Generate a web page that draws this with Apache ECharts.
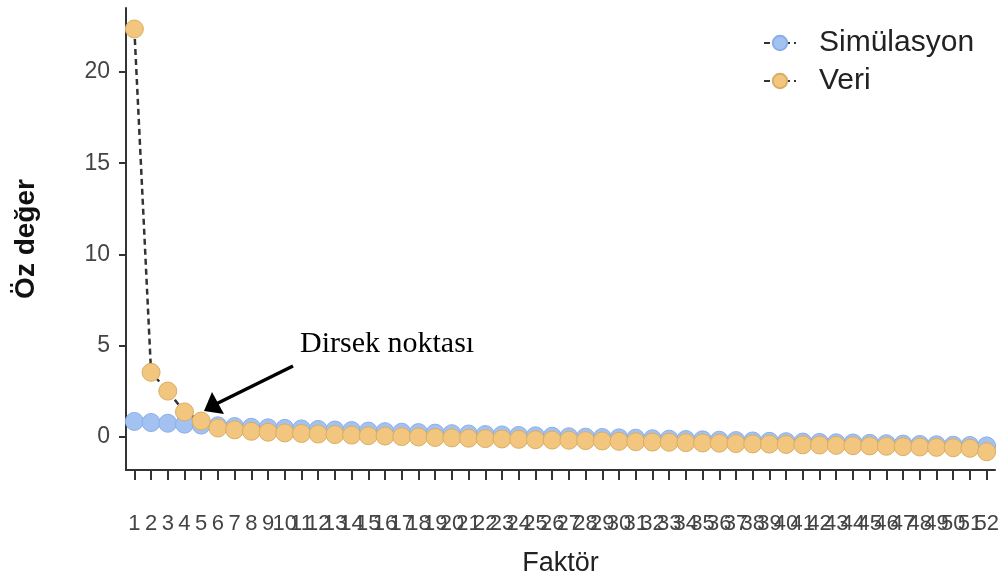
<!DOCTYPE html>
<html>
<head>
<meta charset="utf-8">
<script src="https://cdn.jsdelivr.net/npm/echarts@6/dist/echarts.min.js"></script>
<style>
html,body{margin:0;padding:0;background:#fff;}
#chart{width:1008px;height:582px;}
</style>
</head>
<body>
<div id="chart"></div>
<script>
const factors = ["1","2","3","4","5","6","7","8","9","10","11","12","13","14","15","16","17","18","19","20","21","22","23","24","25","26","27","28","29","30","31","32","33","34","35","36","37","38","39","40","41","42","43","44","45","46","47","48","49","50","51","52"];
const simulasyon = [0.86,0.80,0.76,0.71,0.66,0.62,0.58,0.54,0.51,0.48,0.45,0.42,0.39,0.36,0.33,0.30,0.27,0.25,0.22,0.19,0.17,0.14,0.12,0.09,0.07,0.05,0.02,0.00,-0.02,-0.04,-0.06,-0.09,-0.11,-0.13,-0.15,-0.17,-0.19,-0.21,-0.23,-0.25,-0.27,-0.29,-0.31,-0.32,-0.34,-0.36,-0.38,-0.40,-0.42,-0.44,-0.46,-0.48];
const veri = [22.35,3.55,2.52,1.38,0.88,0.50,0.40,0.32,0.27,0.23,0.20,0.17,0.14,0.11,0.08,0.06,0.03,0.01,-0.02,-0.04,-0.06,-0.08,-0.10,-0.12,-0.14,-0.16,-0.17,-0.19,-0.21,-0.23,-0.25,-0.27,-0.28,-0.30,-0.32,-0.33,-0.35,-0.37,-0.38,-0.40,-0.42,-0.43,-0.45,-0.47,-0.48,-0.50,-0.52,-0.54,-0.56,-0.58,-0.61,-0.80];
const yTicks = [0,5,10,15,20];
const seriesNames = ["Simülasyon","Veri"];
const annotationText = "Dirsek noktası";

const sans = 'Liberation Sans, Arial, Helvetica, sans-serif';
const chart = echarts.init(document.getElementById('chart'));
const lineStyle = {color:'#333', width:2.5, type:[6,4]};
chart.setOption({
  animation:false,
  backgroundColor:'#fff',
  grid:{left:126, right:13, top:8, bottom:112},
  legend:{
    orient:'vertical', left:758, top:23, itemWidth:32, itemHeight:18, itemGap:8,
    textStyle:{fontSize:30, color:'#222', fontFamily:sans, padding:[0,0,0,18]},
    data:seriesNames
  },
  xAxis:{
    type:'category', data:factors, boundaryGap:true,
    name:'Faktör', nameLocation:'middle', nameGap:80,
    nameTextStyle:{fontSize:27, color:'#222', fontFamily:sans},
    axisLine:{onZero:false, lineStyle:{color:'#333', width:2}},
    axisTick:{show:true, interval:0, alignWithLabel:true, length:10, lineStyle:{color:'#333', width:2}},
    axisLabel:{interval:0, hideOverlap:false, fontSize:22, color:'#444', margin:43, fontFamily:sans}
  },
  yAxis:{
    type:'value', min:-1.8, max:23.5,
    name:'Öz değer', nameLocation:'middle', nameGap:86,
    nameTextStyle:{fontSize:28, fontWeight:'bold', color:'#111', fontFamily:sans},
    splitLine:{show:false},
    axisLine:{show:true, lineStyle:{color:'#333', width:2}},
    axisTick:{show:true, length:7, customValues:yTicks, lineStyle:{color:'#333', width:2}},
    axisLabel:{customValues:yTicks, fontSize:23, color:'#444', margin:16, fontFamily:sans}
  },
  series:[
    {name:seriesNames[0], type:'line', data:simulasyon, symbol:'circle', symbolSize:18,
     lineStyle:lineStyle, itemStyle:{color:'#a3c2f2', borderColor:'#8aaee6', borderWidth:1}},
    {name:seriesNames[1], type:'line', data:veri, symbol:'circle', symbolSize:18,
     lineStyle:lineStyle, itemStyle:{color:'#f2c67e', borderColor:'#d9ad62', borderWidth:1}}
  ],
  graphic:[
    {type:'text', left:300, top:329, style:{text:annotationText, fontSize:30, fill:'#000', fontFamily:'Liberation Serif, Times New Roman, serif'}},
    {type:'line', shape:{x1:293, y1:366, x2:216, y2:404}, style:{stroke:'#000', lineWidth:3.5}},
    {type:'polygon', shape:{points:[[204,411],[212,392],[224,414]]}, style:{fill:'#000'}}
  ]
});
</script>
</body>
</html>
